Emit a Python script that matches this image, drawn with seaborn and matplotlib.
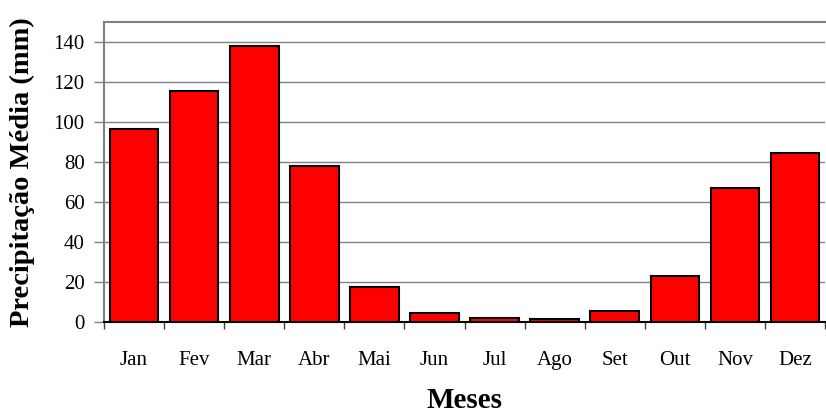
import matplotlib
matplotlib.use("Agg")
import matplotlib.pyplot as plt
import numpy as np
import pandas as pd
import seaborn as sns

# Precipitação média mensal (mm)
meses = ["Jan", "Fev", "Mar", "Abr", "Mai", "Jun", "Jul", "Ago", "Set", "Out", "Nov", "Dez"]
precipitacao = [96.5, 115.7, 138.2, 78.2, 17.3, 4.7, 2.2, 1.3, 5.5, 22.8, 67.2, 84.7]
y_ticks = [0, 20, 40, 60, 80, 100, 120, 140]

df = pd.DataFrame({"Meses": meses, "Precipitacao": precipitacao})

sns.set_theme(style="white")
plt.rcParams["font.family"] = ["Liberation Serif", "DejaVu Serif"]
plt.rcParams["text.color"] = "black"
plt.rcParams["axes.labelcolor"] = "black"
plt.rcParams["xtick.color"] = "black"
plt.rcParams["ytick.color"] = "black"

fig = plt.figure(figsize=(8.26, 4.16), dpi=100)
ax = fig.add_axes([104 / 826, 1 - 322 / 416, 1 - 104 / 826 - 0.001, 300 / 416])

sns.barplot(data=df, x="Meses", y="Precipitacao", color="#FF0000", saturation=1,
            width=0.81, edgecolor="black", linewidth=1.5, ax=ax, zorder=3)

ax.set_xlim(-0.5, len(meses) - 0.5)
ax.set_ylim(0, 150)
ax.set_yticks(y_ticks)
ax.yaxis.grid(True, color="#808080", linewidth=1.0, zorder=0)
ax.set_axisbelow(True)

# category boundary ticks, labels centred between them
ax.set_xticks(np.arange(-0.5, len(meses) + 0.5, 1.0), minor=True)
ax.tick_params(axis="x", which="minor", length=5, width=1, color="#404040",
               direction="out", bottom=True)
ax.tick_params(axis="x", which="major", length=0, pad=21, labelsize=15, labelcolor="black")
ax.tick_params(axis="y", which="major", length=7, width=1, color="#808080",
               direction="out", left=True, pad=7, labelsize=15, labelcolor="black")

for side in ["top", "left"]:
    ax.spines[side].set_color("#808080")
    ax.spines[side].set_linewidth(1.5)
ax.spines["right"].set_visible(False)
ax.spines["bottom"].set_color("black")
ax.spines["bottom"].set_linewidth(1.5)

ax.set_xlabel("Meses", fontsize=21, fontweight="bold", labelpad=12, color="black")
ax.set_ylabel("Precipitação Média (mm)", fontsize=20.5, fontweight="bold", labelpad=13,
              color="black")

fig.savefig("out.png", dpi=100)
